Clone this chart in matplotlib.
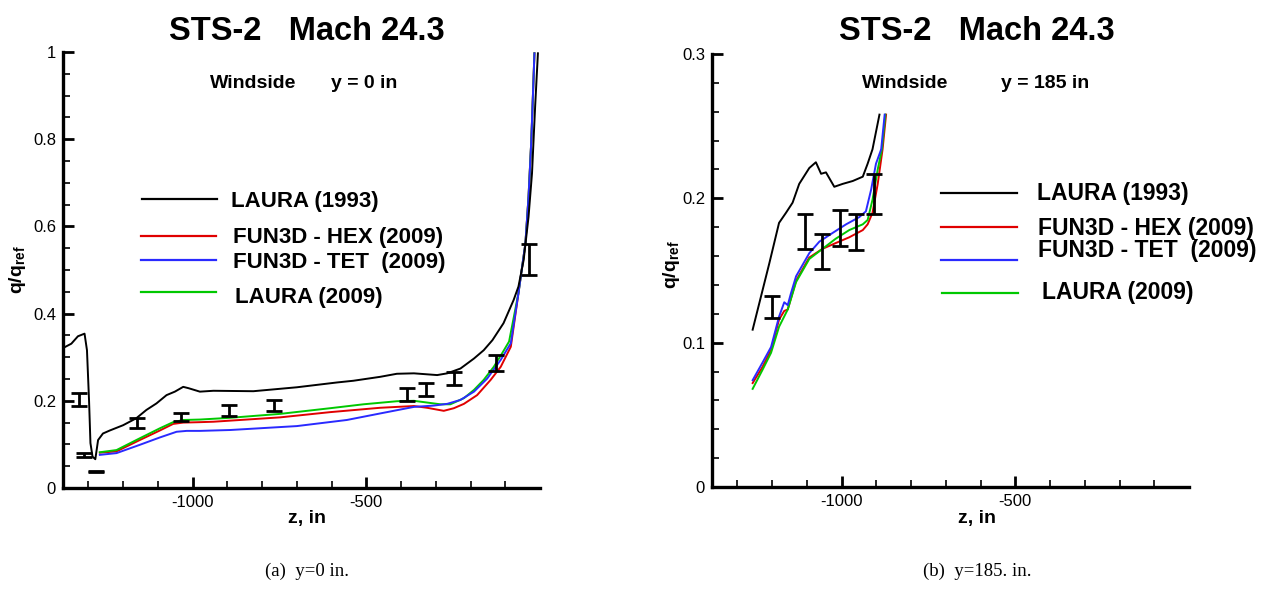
import matplotlib
matplotlib.use('Agg')
import matplotlib.pyplot as plt
from matplotlib.lines import Line2D
from matplotlib.ticker import FixedLocator, FuncFormatter

plt.rcParams['font.family'] = ['Liberation Sans', 'DejaVu Sans']
plt.rcParams['mathtext.fontset'] = 'custom'
plt.rcParams['mathtext.bf'] = 'Liberation Sans:bold'
plt.rcParams['mathtext.rm'] = 'Liberation Sans:bold'
plt.rcParams['axes.unicode_minus'] = False

# ---- (a) windside, y = 0 in ----
a_laura93_z = [-1373, -1349, -1330, -1311, -1304, -1298, -1294, -1288, -1280, -1272, -1258, -1238,
               -1200, -1162, -1133, -1104, -1075, -1051, -1027, -1012, -979, -940, -825, -700,
               -585, -537, -460, -412, -363, -296, -267, -229, -190, -162, -137, -105, -76,
               -62, -47, -33, -23, -14, -6]
a_laura93_q = [0.321, 0.331, 0.348, 0.354, 0.316, 0.200, 0.103, 0.072, 0.066, 0.110, 0.125, 0.132,
               0.144, 0.160, 0.179, 0.194, 0.213, 0.221, 0.232, 0.229, 0.221, 0.223, 0.222, 0.231,
               0.242, 0.246, 0.255, 0.262, 0.263, 0.259, 0.263, 0.274, 0.297, 0.316, 0.339, 0.378, 0.431,
               0.462, 0.523, 0.622, 0.722, 0.875, 0.997]

a_hex_z = [-1267, -1219, -1152, -1094, -1056, -1027, -979, -940, -748, -604, -460, -363, -325,
           -277, -248, -219, -181, -142, -113, -84, -62, -42, -33, -25, -16]
a_hex_q = [0.081, 0.084, 0.110, 0.132, 0.147, 0.150, 0.151, 0.152, 0.162, 0.174, 0.184, 0.188, 0.184,
           0.177, 0.183, 0.193, 0.213, 0.248, 0.278, 0.324, 0.447, 0.561, 0.668, 0.798, 0.997]

a_tet_z = [-1267, -1219, -1152, -1094, -1046, -1017, -979, -892, -700, -556, -460, -363, -306,
           -267, -229, -190, -152, -113, -84, -62, -42, -33, -25, -16]
a_tet_q = [0.076, 0.080, 0.099, 0.116, 0.129, 0.131, 0.131, 0.133, 0.142, 0.156, 0.171, 0.186, 0.189,
           0.193, 0.202, 0.221, 0.251, 0.294, 0.332, 0.447, 0.561, 0.668, 0.798, 0.997]

a_laura09_z = [-1267, -1219, -1152, -1094, -1056, -1027, -979, -892, -748, -604, -508, -412, -363,
               -325, -287, -258, -219, -190, -162, -133, -109, -89, -62, -42, -33, -25, -16]
a_laura09_q = [0.082, 0.087, 0.114, 0.137, 0.151, 0.156, 0.157, 0.161, 0.170, 0.183, 0.192, 0.199, 0.200,
               0.196, 0.192, 0.192, 0.206, 0.225, 0.248, 0.278, 0.309, 0.336, 0.447, 0.561, 0.668, 0.798, 0.997]

a_flight_z = [-1327, -1313, -1279, -1160, -1032, -894, -765, -383, -327, -248, -128, -33]
a_flight_lo = [0.188, 0.071, 0.037, 0.137, 0.154, 0.165, 0.177, 0.200, 0.212, 0.236, 0.268, 0.488]
a_flight_hi = [0.218, 0.081, 0.039, 0.160, 0.173, 0.190, 0.202, 0.229, 0.240, 0.267, 0.305, 0.560]

# ---- (b) windside, y = 185 in ----
b_laura93_z = [-1256, -1232, -1208, -1180, -1160, -1141, -1122, -1093, -1074, -1059, -1045, -1021,
               -997, -968, -939, -925, -911, -891]
b_laura93_q = [0.109, 0.132, 0.155, 0.183, 0.190, 0.197, 0.210, 0.221, 0.225, 0.217, 0.218, 0.208,
               0.210, 0.212, 0.215, 0.224, 0.234, 0.258]

b_hex_z = [-1256, -1228, -1203, -1180, -1165, -1155, -1131, -1093, -1055, -1017, -978, -939, -925,
           -911, -896, -882, -872]
b_hex_q = [0.072, 0.083, 0.095, 0.116, 0.122, 0.123, 0.143, 0.159, 0.165, 0.169, 0.173, 0.178, 0.182,
           0.190, 0.210, 0.234, 0.258]

b_tet_z = [-1256, -1228, -1203, -1180, -1165, -1155, -1146, -1131, -1112, -1093, -1064, -1026, -987,
           -949, -930, -915, -901, -886, -876]
b_tet_q = [0.074, 0.086, 0.097, 0.118, 0.128, 0.126, 0.134, 0.146, 0.154, 0.162, 0.170, 0.176, 0.182,
           0.187, 0.191, 0.206, 0.224, 0.234, 0.258]

b_laura09_z = [-1256, -1228, -1203, -1180, -1155, -1131, -1093, -1055, -1017, -978, -939, -925, -911,
               -896, -884, -874]
b_laura09_q = [0.068, 0.081, 0.093, 0.111, 0.123, 0.142, 0.158, 0.165, 0.172, 0.178, 0.182, 0.185, 0.199,
               0.220, 0.234, 0.258]

b_flight_z = [-1199, -1105, -1055, -1005, -959, -906]
b_flight_lo = [0.117, 0.165, 0.151, 0.167, 0.164, 0.189]
b_flight_hi = [0.132, 0.189, 0.175, 0.192, 0.189, 0.217]

series_labels = ['LAURA (1993)', 'FUN3D - HEX (2009)', 'FUN3D - TET  (2009)', 'LAURA (2009)']
series_colors = ['black', '#e00000', '#2a2aff', '#00c800']

W, H = 1265, 591
fig = plt.figure(figsize=(W / 100, H / 100), dpi=100)


def fx(px):
    return px / W


def fy(py):
    return 1 - py / H


def setup(ax, ymax, ymajor, yminor):
    ax.set_xlim(-1373, 0)
    ax.set_ylim(0, ymax)
    for s in ['top', 'right']:
        ax.spines[s].set_visible(False)
    for s in ['left', 'bottom']:
        ax.spines[s].set_linewidth(2.4)
    ax.xaxis.set_major_locator(FixedLocator([-1000, -500]))
    ax.xaxis.set_minor_locator(FixedLocator(list(range(-1300, 0, 100))))
    ax.yaxis.set_major_locator(FixedLocator(ymajor))
    ax.yaxis.set_minor_locator(FixedLocator(yminor))
    ax.yaxis.set_major_formatter(FuncFormatter(lambda v, p: f'{v:g}'))
    ax.tick_params(which='major', direction='in', length=8, width=2, labelsize=12, pad=5)
    ax.tick_params(which='minor', direction='in', length=5, width=1.2)
    ax.patch.set_visible(False)


def draw(ax, curves, fz, flo, fhi):
    for (z, q), c in zip(curves, ['#e00000', '#00c800', '#2a2aff', 'black']):
        ax.plot(z, q, color=c, lw=1.4, clip_on=True)
    ctr = [(l + h) / 2 for l, h in zip(flo, fhi)]
    err = [(h - l) / 2 for l, h in zip(flo, fhi)]
    ax.errorbar(fz, ctr, yerr=err, fmt='none', ecolor='black', elinewidth=2,
                capsize=6, capthick=2)


ax1 = fig.add_axes([fx(63), fy(488), fx(540 - 63), (488 - 52) / H])
setup(ax1, 1.0, [0, 0.2, 0.4, 0.6, 0.8, 1.0], [i * 0.05 for i in range(21)])
draw(ax1, [(a_hex_z, a_hex_q), (a_laura09_z, a_laura09_q), (a_tet_z, a_tet_q),
           (a_laura93_z, a_laura93_q)], a_flight_z, a_flight_lo, a_flight_hi)

ax2 = fig.add_axes([fx(712), fy(487), fx(1189 - 712), (487 - 54) / H])
setup(ax2, 0.3, [0, 0.1, 0.2, 0.3], [i * 0.02 for i in range(16)])
draw(ax2, [(b_hex_z, b_hex_q), (b_laura09_z, b_laura09_q), (b_tet_z, b_tet_q),
           (b_laura93_z, b_laura93_q)], b_flight_z, b_flight_lo, b_flight_hi)

# titles and annotations
for cx in [307, 977]:
    fig.text(fx(cx), fy(31), 'STS-2   Mach 24.3', ha='center', va='center',
             fontsize=23.5, fontweight='bold')
    fig.text(fx(cx), fy(518), 'z, in', ha='center', va='center', fontsize=14, fontweight='bold')

fig.text(fx(210), fy(83), 'Windside', ha='left', va='center', fontsize=14, fontweight='bold')
fig.text(fx(331), fy(83), 'y = 0 in', ha='left', va='center', fontsize=14, fontweight='bold')
fig.text(fx(862), fy(83), 'Windside', ha='left', va='center', fontsize=14, fontweight='bold')
fig.text(fx(1001), fy(83), 'y = 185 in', ha='left', va='center', fontsize=14, fontweight='bold')

ylab = r'$\mathbf{q/q}_{\mathbf{ref}}$'
fig.text(fx(18), fy(270), ylab, rotation=90, ha='center', va='center', fontsize=14)
fig.text(fx(672), fy(265), ylab, rotation=90, ha='center', va='center', fontsize=14)

# manual legends
leg_a = [(142, 217, 199, 231, 202), (141, 216, 236, 233, 238),
         (141, 216, 260, 233, 262), (141, 216, 292, 235, 298)]
leg_b = [(941, 1017, 193, 1037, 193), (941, 1017, 227, 1038, 228),
         (941, 1017, 260, 1038, 250), (942, 1018, 293, 1042, 292)]
for leg, fs in [(leg_a, 16), (leg_b, 16.5)]:
    for (x0, x1, ly, tx, ty), lab, col in zip(leg, series_labels, series_colors):
        fig.add_artist(Line2D([fx(x0), fx(x1)], [fy(ly), fy(ly)], color=col, lw=1.6,
                              transform=fig.transFigure))
        fig.text(fx(tx), fy(ty), lab, ha='left', va='center', fontsize=fs, fontweight='bold')

# captions
fig.text(fx(307), fy(571), '(a)  y=0 in.', ha='center', va='center', fontsize=13.5,
         family='Liberation Serif')
fig.text(fx(977), fy(571), '(b)  y=185. in.', ha='center', va='center', fontsize=13.5,
         family='Liberation Serif')

fig.savefig('out.png', dpi=100)
